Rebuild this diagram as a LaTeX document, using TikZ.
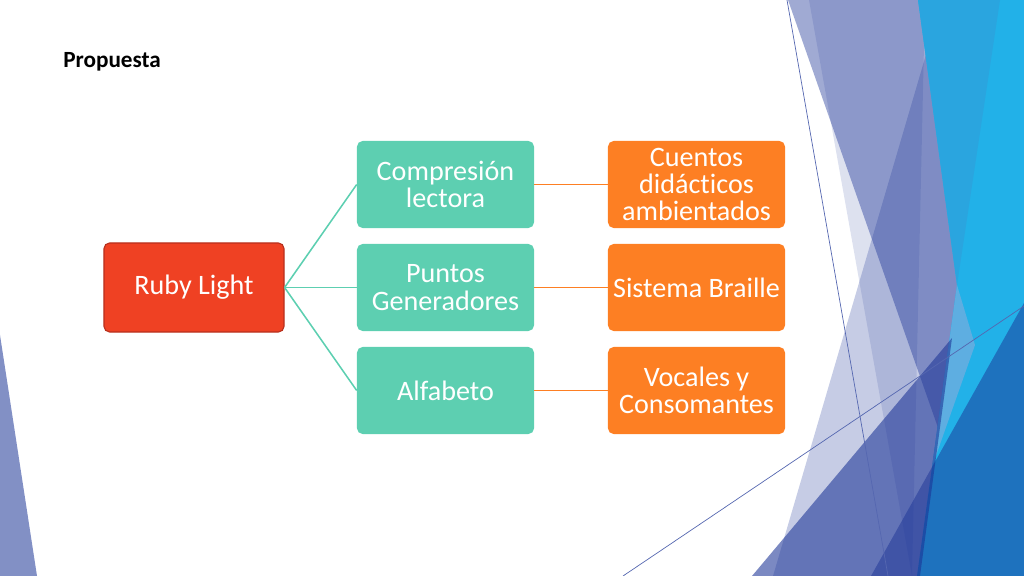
\documentclass[tikz,border=0pt]{standalone}
\usepackage{fontspec}
\setmainfont{Carlito}[Ligatures=NoCommon]
\definecolor{rubyred}{HTML}{EF4123}
\definecolor{rubyedge}{HTML}{B8301D}
\definecolor{mintbox}{HTML}{5DCFB1}
\definecolor{orangebox}{HTML}{FD7F23}
\definecolor{facetnavy}{RGB}{28,52,150}
\definecolor{facetcyan}{HTML}{22B1E8}
\definecolor{facetcyandk}{HTML}{2AA5DF}
\definecolor{facetsky}{HTML}{5EAEE1}
\begin{document}
\begin{tikzpicture}[x=0.025cm,y=-0.025cm,
  box/.style={rounded corners=4pt, inner sep=0pt, align=center, text=white,
    minimum width=4.425cm, minimum height=2.175cm, font=\fontsize{20}{19.5}\selectfont},
  rootbox/.style={box, fill=rubyred, draw=rubyedge, line width=0.8pt,
    minimum width=4.5cm, minimum height=2.225cm},
  midbox/.style={box, fill=mintbox},
  leafbox/.style={box, fill=orangebox},
  mintline/.style={draw=mintbox, line width=1.1pt},
  orangeline/.style={draw=orangebox, line width=1.3pt}]
\useasboundingbox (0,0) rectangle (1024,576);
% facet background
\fill[facetnavy, fill opacity=0.55] (0,335) -- (37,576) -- (0,576) -- cycle;
\fill[facetnavy, fill opacity=0.42] (788,0) -- (925,0) -- (990,576) -- cycle;
\fill[facetnavy, fill opacity=0.15] (809,0) -- (925,0) -- (912,576) -- cycle;
\fill[facetnavy, fill opacity=0.25] (773,576) -- (942,0) -- (1000,576) -- cycle;
\fill[facetcyan] (918,0) -- (1024,0) -- (1024,576) -- (917,576) -- (932,467) -- (957,285) -- cycle;
\fill[facetcyandk] (918,0) -- (1000,0) -- (957,285) -- cycle;
\fill[facetsky] (957,285) -- (975,345) -- (932,467) -- cycle;
\fill[facetnavy, fill opacity=0.58] (752,576) -- (952,338) -- (920,576) -- cycle;
\fill[facetnavy, fill opacity=0.5] (1024,303) -- (1024,576) -- (871,576) -- cycle;
\draw[facetnavy!75, line width=0.5pt] (787,0) -- (888,576);
\draw[facetnavy!75, line width=0.5pt] (623,576) -- (1024,306);
% title
\node[anchor=base west, inner sep=0pt, font=\bfseries\fontsize{16.5}{18}\selectfont] (title) at (63,68) {Propuesta};
% diagram
\node[rootbox] (1) at (194,287.5) {Ruby Light};
\node[midbox] (2) at (445.5,184.5) {Compresión\\lectora};
\node[midbox] (3) at (445.5,287.5) {Puntos\\Generadores};
\node[midbox] (4) at (445.5,390.5) {Alfabeto};
\node[leafbox] (5) at (696.5,184.5) {Cuentos\\didácticos\\ambientados};
\node[leafbox] (6) at (696.5,287.5) {Sistema Braille};
\node[leafbox] (7) at (696.5,390.5) {Vocales y\\Consomantes};
\path[mintline] (1.east) -- (2.west);
\path[mintline] (1.east) -- (3.west);
\path[mintline] (1.east) -- (4.west);
\path[orangeline] (2.east) -- (5.west);
\path[orangeline] (3.east) -- (6.west);
\path[orangeline] (4.east) -- (7.west);
\end{tikzpicture}
\end{document}
